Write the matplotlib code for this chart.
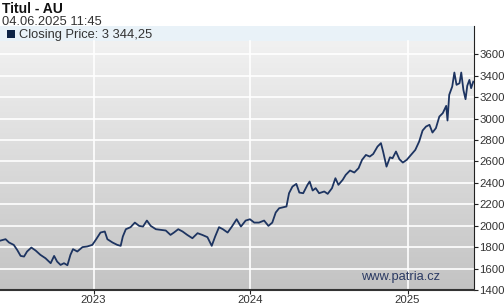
import numpy as np
import pandas as pd
import matplotlib
matplotlib.use("Agg")
import matplotlib.pyplot as plt
import matplotlib.dates as mdates
from matplotlib.patches import Rectangle

plt.rcParams["font.family"] = ["Liberation Sans", "DejaVu Sans"]

# day offsets from 2023-01-01 and closing prices
day = [-217, -205, -197, -186, -178, -170, -162, -155, -145, -135, -124, -112,
       -100, -92, -85, -77, -69, -61, -54, -48, -38, -26, -15, -3, 6, 16, 26,
       32, 44, 55, 63, 68, 75, 86, 96, 106, 115, 124, 133, 145, 156, 168, 179,
       187, 197, 207, 218, 230, 242, 253, 265, 275, 283, 292, 301, 312, 322,
       333, 343, 354, 364, 374, 385, 397, 407, 416, 424, 432, 441, 449, 455,
       463, 472, 479, 488, 498, 503, 510, 517, 525, 537, 545, 555, 563, 570,
       580, 587, 597, 607, 617, 625, 634, 643, 651, 661, 669, 674, 682, 690,
       696, 704, 712, 720, 729, 739, 749, 758, 766, 774, 782, 789, 797, 805,
       813, 821, 824, 828, 835, 840, 845, 852, 856, 861, 866, 870, 875, 879,
       884]
price = [1861, 1874, 1843, 1821, 1774, 1718, 1712, 1759, 1796, 1768, 1728, 1696,
         1650, 1718, 1665, 1634, 1650, 1631, 1728, 1781, 1759, 1800, 1806, 1821,
         1874, 1936, 1946, 1874, 1843, 1821, 1812, 1899, 1967, 1986, 2029, 1998,
         1992, 2048, 1998, 1967, 1961, 1955, 1914, 1936, 1967, 1946, 1914, 1883,
         1930, 1914, 1893, 1812, 1899, 1986, 1967, 1936, 1992, 2060, 1992, 2048,
         2060, 2029, 2029, 2048, 1998, 2029, 2123, 2163, 2172, 2179, 2303, 2365,
         2390, 2309, 2303, 2381, 2412, 2328, 2350, 2303, 2319, 2297, 2350, 2443,
         2381, 2428, 2474, 2515, 2496, 2537, 2614, 2660, 2645, 2669, 2738, 2770,
         2692, 2551, 2638, 2629, 2692, 2620, 2589, 2614, 2660, 2707, 2785, 2888,
         2925, 2941, 2869, 2910, 3018, 3050, 3118, 2981, 3221, 3298, 3429, 3314,
         3329, 3429, 3267, 3180, 3305, 3360, 3283, 3344]
yticks = [1400, 1600, 1800, 2000, 2200, 2400, 2600, 2800, 3000, 3200, 3400, 3600]
years = ["2023-01-01", "2024-01-01", "2025-01-01"]

dates = pd.Timestamp("2023-01-01") + pd.to_timedelta(day, unit="D")
x0 = mdates.date2num(pd.Timestamp("2022-05-28"))
x1 = mdates.date2num(pd.Timestamp("2025-06-04"))

W, H = 504, 306
fig = plt.figure(figsize=(W / 100, H / 100), dpi=100)
ax = fig.add_axes([0, 1 - 290 / H, 473.7 / W, 264 / H])

ymin, ymax = 1400, 3863
yband = 3723
ax.set_xlim(x0, x1)
ax.set_ylim(ymin, ymax)

# gradient background + legend band
grad = np.linspace(0, 1, 256).reshape(-1, 1)
cmap = matplotlib.colors.LinearSegmentedColormap.from_list("bg", ["#c3c3c3", "#f1f1f1"])
ax.imshow(grad, extent=[x0, x1, ymin, yband], origin="lower", aspect="auto",
          cmap=cmap, zorder=0)
ax.axhspan(yband, ymax, color="#e9f2f8", zorder=0, lw=0)

for v in yticks[1:]:
    ax.axhline(v, color="white", lw=1.2, zorder=1)
for yr in years:
    ax.plot([mdates.date2num(pd.Timestamp(yr))] * 2, [ymin, yband], color="white", lw=1.2, zorder=1)

ax.plot(dates, price, color="#1d3461", lw=1.3, zorder=3)

ax.spines["left"].set_visible(False)
ax.spines["top"].set_visible(False)
ax.spines["right"].set_color("#222222")
ax.spines["bottom"].set_color("#333333")
ax.spines["bottom"].set_linewidth(1.5)

ax.yaxis.tick_right()
ax.set_yticks(yticks)
ax.set_yticklabels([str(v) for v in yticks])
ax.set_xticks([mdates.date2num(pd.Timestamp(y)) for y in years])
ax.set_xticklabels([y[:4] for y in years])
ax.tick_params(axis="both", labelsize=8.2, colors="#222222", length=3, width=0.8, pad=1.0,
               labelcolor="#333333")
ax.tick_params(axis="x", pad=0.8)

fig.text(2 / W, 1 - 9 / H, "Titul - AU", fontsize=10, fontweight="bold",
         va="center", ha="left", color="#111111")
fig.text(2 / W, 1 - 22 / H, "04.06.2025 11:45", fontsize=9.3,
         va="center", ha="left", color="#333333")
fig.patches.append(Rectangle((7 / W, 1 - 38 / H), 7.5 / W, 7.5 / H, transform=fig.transFigure,
                             facecolor="#0d2346", edgecolor="none"))
fig.text(19 / W, 1 - 35 / H, "Closing Price: 3 344,25", fontsize=9.3,
         va="center", ha="left", color="#333333")
fig.text(361 / W, 1 - 277 / H, "www.patria.cz", fontsize=9.3,
         va="center", ha="left", color="#2b3a63")

fig.savefig("out.png", dpi=100)
